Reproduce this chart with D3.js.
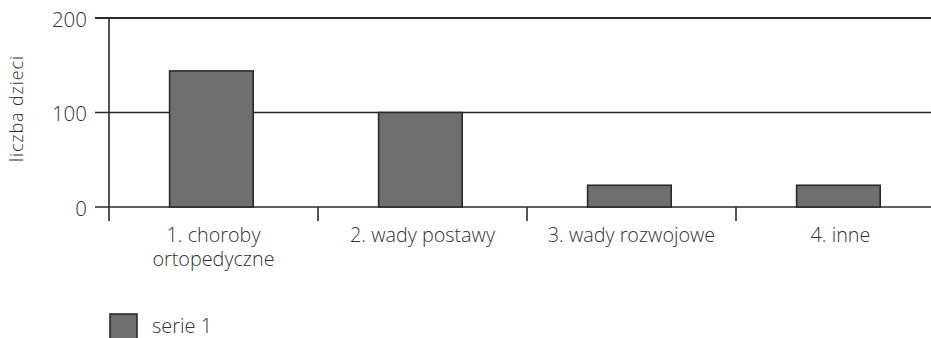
<!DOCTYPE html>
<html>
<head>
<meta charset="utf-8">
<script src="https://cdn.jsdelivr.net/npm/d3@7/dist/d3.min.js"></script>
<style>
  html, body { margin: 0; padding: 0; background: #fff; }
  svg { display: block; font-family: "Open Sans", sans-serif; font-weight: 300; }
</style>
</head>
<body>
<svg id="chart" width="931" height="338"></svg>
<script>
// Kategorie i wartości serii
const categories = ["1. choroby\nortopedyczne", "2. wady postawy", "3. wady rozwojowe", "4. inne"];
const series1 = [144, 100, 23, 23];
const yTicks = [0, 100, 200];
const seriesName = "serie 1";
const yTitle = "liczba dzieci";

const svg = d3.select("#chart");
const plotLeft = 109, plotRight = 945, plotTop = 18, plotBottom = 207, tickEnd = 221;

const xb = d3.scaleBand().domain(categories).range([plotLeft, plotRight]).padding(0);
const step = xb.step();
const y = d3.scaleLinear().domain([0, 200]).range([plotBottom, plotTop]);

// Linie siatki poziomej
svg.append("g").selectAll("line").data(yTicks).join("line")
  .attr("x1", 95).attr("x2", 931)
  .attr("y1", d => y(d)).attr("y2", d => y(d))
  .attr("stroke", "#2a2a2a").attr("stroke-width", d => d === 200 ? 2 : 1.6);

// Etykiety osi Y
svg.append("g").selectAll("text").data(yTicks).join("text")
  .attr("x", 87).attr("y", d => y(d) + 8.5)
  .attr("text-anchor", "end").attr("font-size", 20.5).attr("fill", "#333")
  .text(d => d);

// Słupki
svg.append("g").selectAll("rect").data(series1).join("rect")
  .attr("x", (d, i) => xb(categories[i]) + step * 0.29)
  .attr("width", step * 0.4)
  .attr("y", d => y(d))
  .attr("height", d => y(0) - y(d))
  .attr("fill", "#6f6f6f").attr("stroke", "#2a2a2a").attr("stroke-width", 1.6);

// Oś Y
svg.append("line").attr("x1", plotLeft).attr("x2", plotLeft).attr("y1", plotTop).attr("y2", tickEnd)
  .attr("stroke", "#2a2a2a").attr("stroke-width", 1.6);

// Podziałki osi X
svg.append("g").selectAll("line").data(categories.slice(1)).join("line")
  .attr("x1", d => xb(d)).attr("x2", d => xb(d))
  .attr("y1", plotBottom).attr("y2", tickEnd)
  .attr("stroke", "#2a2a2a").attr("stroke-width", 1.6);

// Etykiety kategorii (każda linia osobno)
const lines = [];
categories.forEach(c => c.split("\n").forEach((t, i) => lines.push({ c, t, i })));
svg.append("g").selectAll("text").data(lines).join("text")
  .attr("text-anchor", "middle").attr("font-size", 19.8).attr("fill", "#333")
  .attr("x", d => xb(d.c) + step / 2)
  .attr("y", d => 242 + d.i * 23.5)
  .text(d => d.t);

// Tytuł osi Y
svg.append("text")
  .attr("transform", "translate(23, 109) rotate(-90)")
  .attr("text-anchor", "middle").attr("font-size", 18).attr("fill", "#333")
  .attr("textLength", 106).attr("lengthAdjust", "spacing")
  .text(yTitle);

// Legenda
svg.append("rect").attr("x", 110).attr("y", 314).attr("width", 27).attr("height", 30)
  .attr("fill", "#6f6f6f").attr("stroke", "#2a2a2a").attr("stroke-width", 1.6);
svg.append("text").attr("x", 152).attr("y", 333)
  .attr("font-size", 20).attr("fill", "#333").text(seriesName);
</script>
</body>
</html>
